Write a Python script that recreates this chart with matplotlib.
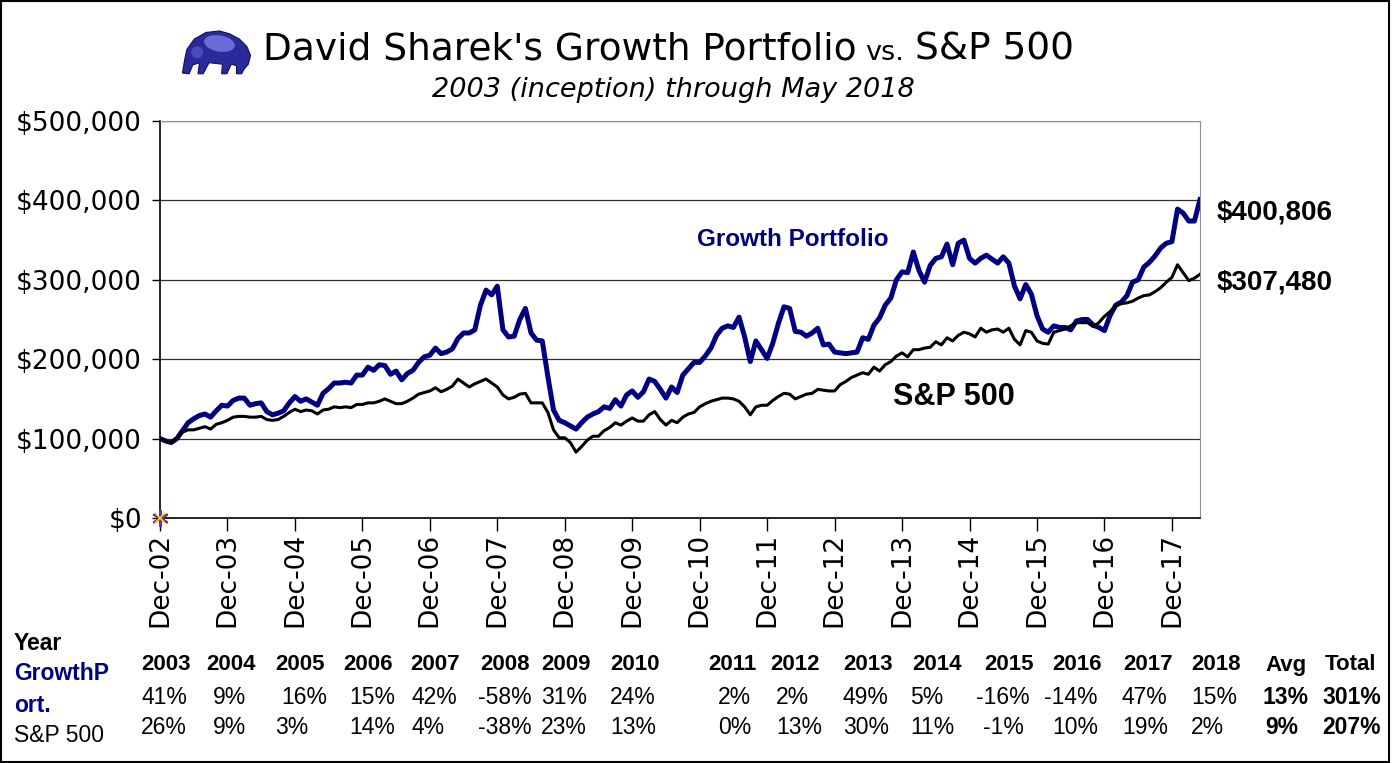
import numpy as np
import matplotlib
matplotlib.use('Agg')
import matplotlib.pyplot as plt
from matplotlib import font_manager as fm
from matplotlib.patches import Rectangle, Polygon, Ellipse
from matplotlib.ticker import FuncFormatter

# Month-end values in $ thousands, Dec 2002 .. May 2018
growth = [100, 97, 95, 100, 110, 120, 125, 129, 131, 127, 135, 142,
          141, 148, 151, 151, 142, 144, 145, 134, 130, 132, 135, 145,
          153, 147, 150, 146, 142, 157, 163, 170, 170, 171, 170, 180,
          180, 190, 186, 193, 192, 181, 185, 174, 182, 186, 196, 203,
          205, 214, 207, 209, 213, 226, 233, 233, 237, 268, 287, 281,
          292, 237, 228, 229, 250, 264, 233, 224, 223, 178, 136, 123,
          120, 116, 112, 120, 127, 131, 134, 140, 138, 149, 141, 155,
          160, 152, 159, 175, 172, 162, 151, 165, 158, 180, 188, 196,
          196, 204, 214, 230, 239, 242, 240, 253, 228, 197, 223, 212,
          201, 220, 245, 266, 264, 235, 234, 229, 233, 239, 218, 219,
          209, 208, 207, 208, 209, 227, 225, 243, 252, 268, 277, 300,
          310, 309, 335, 312, 297, 318, 327, 329, 345, 319, 346, 350,
          327, 321, 327, 331, 326, 321, 329, 321, 292, 276, 294, 282,
          255, 238, 234, 242, 240, 240, 237, 248, 250, 250, 243, 240,
          236, 255, 268, 272, 280, 297, 300, 316, 322, 330, 340, 346,
          348, 389, 384, 374, 374, 401]
sp500 = [100, 97, 95, 101, 108, 111, 111, 113, 115, 112, 118, 120,
         123, 127, 128, 128, 127, 127, 128, 124, 123, 124, 128, 133,
         137, 134, 136, 135, 131, 136, 137, 140, 139, 140, 139, 143,
         143, 145, 145, 147, 150, 147, 144, 144, 147, 151, 156, 158,
         160, 164, 159, 162, 166, 175, 170, 165, 169, 172, 175, 170,
         165, 155, 150, 152, 156, 157, 145, 145, 145, 133, 111, 101,
         101, 95, 83, 90, 98, 103, 103, 110, 114, 120, 117, 122,
         126, 122, 122, 130, 134, 124, 117, 123, 120, 127, 131, 133,
         140, 144, 147, 149, 151, 151, 150, 147, 140, 130, 140, 142,
         142, 148, 153, 157, 156, 150, 153, 156, 157, 162, 161, 160,
         160, 168, 172, 177, 180, 183, 181, 190, 185, 193, 197, 204,
         208, 203, 212, 212, 214, 215, 222, 218, 227, 223, 230, 234,
         232, 228, 239, 234, 237, 238, 234, 239, 225, 218, 236, 234,
         223, 220, 219, 234, 236, 238, 242, 246, 246, 246, 241, 246,
         254, 260, 267, 270, 271, 273, 277, 280, 281, 285, 290, 297,
         303, 319, 309, 299, 302, 307]

tick_labels = ['Dec-02', 'Dec-03', 'Dec-04', 'Dec-05', 'Dec-06', 'Dec-07',
               'Dec-08', 'Dec-09', 'Dec-10', 'Dec-11', 'Dec-12', 'Dec-13',
               'Dec-14', 'Dec-15', 'Dec-16', 'Dec-17']

years = ['2003', '2004', '2005', '2006', '2007', '2008', '2009', '2010',
         '2011', '2012', '2013', '2014', '2015', '2016', '2017', '2018',
         'Avg', 'Total']
growth_ret = ['41%', '9%', '16%', '15%', '42%', '-58%', '31%', '24%',
              '2%', '2%', '49%', '5%', '-16%', '-14%', '47%', '15%',
              '13%', '301%']
sp_ret = ['26%', '9%', '3%', '14%', '4%', '-38%', '23%', '13%',
          '0%', '13%', '30%', '11%', '-1%', '10%', '19%', '2%',
          '9%', '207%']
final_growth = '$400,806'
final_sp = '$307,480'

NAVY = '#000080'
W, H = 1395, 763


def fx(px):
    return px / W


def fy(py):
    return 1 - py / H


names = {f.name for f in fm.fontManager.ttflist}
narrow = 'Liberation Sans Narrow' in names
ARIAL = ['Liberation Sans', 'DejaVu Sans']
NARROW = ['Liberation Sans Narrow', 'Liberation Sans'] if narrow else ARIAL

fig = plt.figure(figsize=(W / 100, H / 100), dpi=100)
fig.patch.set_facecolor('white')

# main chart
ax = fig.add_axes([fx(160), fy(518), fx(1200) - fx(160), fy(121) - fy(518)])
months = np.arange(len(growth))
ax.plot(months, np.array(growth) * 1000, color=NAVY, lw=3.6,
        solid_joinstyle='round', zorder=3)
ax.plot(months, np.array(sp500) * 1000, color='black', lw=2.2,
        solid_joinstyle='round', zorder=4)
ax.plot(0, 0, marker=(6, 2, 0), color='#7030a0', ms=12, mew=1.6,
        clip_on=False, zorder=6)
ax.plot(0, 0, marker='x', color='#ffd700', ms=7, mew=1.2,
        clip_on=False, zorder=7)

ax.set_xlim(0, len(growth) - 1)
ax.set_ylim(0, 500000)
ax.set_yticks(np.arange(0, 500001, 100000))
ax.yaxis.set_major_formatter(FuncFormatter(lambda v, p: f'${v:,.0f}'))
ax.set_xticks(months[::12])
ax.set_xticklabels(tick_labels, rotation=90)
ax.grid(axis='y', color='#303030', lw=0.9)
ax.set_axisbelow(True)
ax.tick_params(axis='y', length=6, width=1, pad=7, labelsize=19)
ax.tick_params(axis='x', length=9, width=1, pad=2, labelsize=19)
for side in ['top', 'right']:
    ax.spines[side].set_color('#909090')
for side in ['left', 'bottom']:
    ax.spines[side].set_color('black')
    ax.spines[side].set_linewidth(1.2)

# series labels
fig.text(fx(697), fy(240), 'Growth Portfolio', color=NAVY,
         fontsize=20 if narrow else 17.5, fontweight='bold', family=NARROW,
         va='center', ha='left')
fig.text(fx(893), fy(397), 'S&P 500', color='black', fontsize=22,
         fontweight='bold', family=NARROW, va='center', ha='left')
fig.text(fx(1217), fy(213), final_growth, fontsize=20, fontweight='bold',
         family=ARIAL, va='center', ha='left')
fig.text(fx(1217), fy(283), final_sp, fontsize=20, fontweight='bold',
         family=ARIAL, va='center', ha='left')

# title
r = fig.canvas.get_renderer()
t1 = fig.text(fx(263), fy(60), "David Sharek's Growth Portfolio",
              fontsize=27, va='baseline', ha='left')
bb = t1.get_window_extent(r)
t2 = fig.text((bb.x1 + 9) / W, fy(60), 'vs.', fontsize=19.5,
              va='baseline', ha='left')
bb2 = t2.get_window_extent(r)
fig.text((bb2.x1 + 11) / W, fy(60), 'S&P 500', fontsize=27,
         va='baseline', ha='left')
fig.text(fx(673), fy(90), '2003 (inception) through May 2018',
         fontsize=19.5, style='italic', va='center', ha='center')

# logo (little blue bison)
lax = fig.add_axes([fx(178), fy(76), 74 / W, 48 / H])
lax.set_xlim(0, 10)
lax.set_ylim(0, 6.5)
lax.axis('off')
body = [(0.6, 0.4), (0.9, 2.2), (1.2, 3.6), (2.2, 5.0), (3.8, 5.9),
        (5.6, 6.1), (7.0, 5.7), (8.3, 5.0), (9.3, 4.0), (9.8, 2.8),
        (9.5, 1.6), (8.9, 0.9), (8.6, 0.3), (7.9, 0.3), (7.9, 1.4),
        (7.2, 1.6), (6.6, 0.3), (5.9, 0.3), (6.0, 1.6), (4.2, 1.8),
        (3.4, 0.3), (2.7, 0.3), (2.9, 1.8), (2.0, 1.5), (1.5, 0.3)]
lax.add_patch(Polygon(body, closed=True, fc='#2a2a9a', ec='#10105a', lw=0.8))
lax.add_patch(Ellipse((5.6, 4.4), 4.2, 2.2, angle=-10, fc='#7c7ce6',
                      ec='none', alpha=0.8))
lax.add_patch(Ellipse((2.6, 3.2), 1.6, 1.6, fc='#5a5ad0', ec='none',
                      alpha=0.7))

# returns table
fig.text(fx(14), fy(643), 'Year', fontsize=16.5, fontweight='bold',
         family=ARIAL, va='center', ha='left')
fig.text(fx(14), fy(673), 'GrowthP', fontsize=16.5, fontweight='bold',
         color=NAVY, family=ARIAL, va='center', ha='left')
fig.text(fx(14), fy(705), 'ort.', fontsize=16.5, fontweight='bold',
         color=NAVY, family=ARIAL, va='center', ha='left')
fig.text(fx(14), fy(736), 'S&P 500', fontsize=16.5, family=ARIAL,
         va='center', ha='left')

year_x = [141, 206, 275, 343, 410, 480, 541, 610, 708, 770, 843, 912,
          984, 1052, 1123, 1191, 1265, 1325]
growth_x = [141, 213, 281, 349, 411, 478, 541, 610, 718, 776, 843, 910,
            976, 1044, 1122, 1191, 1262, 1322]
sp_x = [141, 213, 275, 349, 411, 478, 541, 610, 718, 776, 843, 910,
        983, 1052, 1122, 1191, 1265, 1322]
n_years = 16
for i, lab in enumerate(years):
    fig.text(fx(year_x[i]), fy(665), lab, fontsize=16, fontweight='bold',
             family=ARIAL, va='center', ha='left')
    w = 'bold' if i >= n_years else 'normal'
    fig.text(fx(growth_x[i]), fy(697), growth_ret[i], fontsize=16.5,
             fontweight=w, family=ARIAL, va='center', ha='left')
    fig.text(fx(sp_x[i]), fy(728), sp_ret[i], fontsize=16.5,
             fontweight=w, family=ARIAL, va='center', ha='left')

# outer frame
fig.add_artist(Rectangle((fx(1), fy(762)), fx(1389) - fx(1), fy(1) - fy(762),
                         transform=fig.transFigure, fill=False,
                         ec='black', lw=1.5))

fig.savefig('out.png', dpi=100)
